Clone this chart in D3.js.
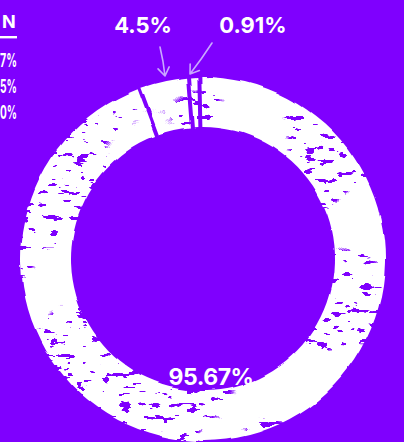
<!DOCTYPE html>
<html>
<head>
<meta charset="utf-8">
<script src="https://cdn.jsdelivr.net/npm/d3@7"></script>
<style>
  html, body { margin: 0; padding: 0; background: #7f00fe; overflow: hidden; }
  svg { display: block; }
</style>
</head>
<body>
<script>
// chart data
var categories = ["Main", "Second", "Third"];
var shares = [95.67, 4.5, 0.91];
var shareLabels = ["95.67%", "4.5%", "0.91%"];

// left legend, only its right edge is visible in the frame
var legendTitle = "N";
var legendLabels = ["7%", "5%", "0%"];

var width = 404;
var height = 442;
var bg = "#7f00fe";

var svg = d3.select("body").append("svg")
    .attr("width", width)
    .attr("height", height);

svg.append("rect")
    .attr("width", width)
    .attr("height", height)
    .attr("fill", bg);

// grunge filter: wobbly edges + clustered speckles
var defs = svg.append("defs");
var filter = defs.append("filter")
    .attr("id", "grunge")
    .attr("filterUnits", "userSpaceOnUse")
    .attr("x", -210).attr("y", -210)
    .attr("width", 420).attr("height", 420);
filter.append("feTurbulence")
    .attr("type", "fractalNoise")
    .attr("baseFrequency", "0.03")
    .attr("numOctaves", 2)
    .attr("seed", 3)
    .attr("result", "warp");
filter.append("feDisplacementMap")
    .attr("in", "SourceGraphic")
    .attr("in2", "warp")
    .attr("scale", 5)
    .attr("xChannelSelector", "R")
    .attr("yChannelSelector", "G")
    .attr("result", "rough");
filter.append("feTurbulence")
    .attr("type", "fractalNoise")
    .attr("baseFrequency", "0.07 0.16")
    .attr("numOctaves", 3)
    .attr("seed", 11)
    .attr("result", "spots");
filter.append("feColorMatrix")
    .attr("in", "spots")
    .attr("type", "matrix")
    .attr("values", "0 0 0 0 0  0 0 0 0 0  0 0 0 0 0  70 0 0 0 -45.3")
    .attr("result", "holes");
filter.append("feTurbulence")
    .attr("type", "fractalNoise")
    .attr("baseFrequency", "0.012")
    .attr("numOctaves", 1)
    .attr("seed", 5)
    .attr("result", "cluster");
filter.append("feColorMatrix")
    .attr("in", "cluster")
    .attr("type", "matrix")
    .attr("values", "0 0 0 0 0  0 0 0 0 0  0 0 0 0 0  40 0 0 0 -19")
    .attr("result", "clusterMask");
filter.append("feComposite")
    .attr("in", "holes")
    .attr("in2", "clusterMask")
    .attr("operator", "in")
    .attr("result", "holes2");
filter.append("feComposite")
    .attr("in", "rough")
    .attr("in2", "holes2")
    .attr("operator", "out");

var cx = 203, cy = 259;
var innerR = 132, outerR = 182;

var pie = d3.pie()
    .sort(null)
    .value(function(d) { return d; })
    .startAngle(-0.02)
    .endAngle(2 * Math.PI - 0.02);

var arc = d3.arc()
    .innerRadius(innerR)
    .outerRadius(outerR)
    .padAngle(4 / 157)
    .padRadius(157);

var arcs = pie(shares);

var ring = svg.append("g")
    .attr("transform", "translate(" + cx + "," + cy + ")")
    .attr("filter", "url(#grunge)");

ring.selectAll("path")
    .data(arcs)
    .enter().append("path")
    .attr("d", arc)
    .attr("fill", "#ffffff");

// value labels
var font = "Inter, 'DejaVu Sans', sans-serif";

svg.append("text")
    .attr("x", 211)
    .attr("y", 385)
    .attr("text-anchor", "middle")
    .style("font-family", font)
    .style("font-weight", 700)
    .style("font-size", "23px")
    .style("letter-spacing", "-0.5px")
    .style("fill", "#fff")
    .text(shareLabels[0]);

var topLabels = [
    {text: shareLabels[1], x: 143, from: [160, 47], to: [165, 76]},
    {text: shareLabels[2], x: 253, from: [212, 43], to: [190, 74]}
];

svg.selectAll(".top-label")
    .data(topLabels)
    .enter().append("text")
    .attr("class", "top-label")
    .attr("x", function(d) { return d.x; })
    .attr("y", 33)
    .attr("text-anchor", "middle")
    .style("font-family", font)
    .style("font-weight", 700)
    .style("font-size", "22px")
    .style("fill", "#fff")
    .text(function(d) { return d.text; });

// hand drawn arrows
var arrowColor = "#c9a8ff";
topLabels.forEach(function(d) {
    var dx = d.to[0] - d.from[0], dy = d.to[1] - d.from[1];
    var ang = Math.atan2(dy, dx);
    var h = 10, spread = 0.6;
    var p1 = [d.to[0] - h * Math.cos(ang - spread), d.to[1] - h * Math.sin(ang - spread)];
    var p2 = [d.to[0] - h * Math.cos(ang + spread), d.to[1] - h * Math.sin(ang + spread)];
    var path = d3.path();
    path.moveTo(d.from[0], d.from[1]);
    path.quadraticCurveTo((d.from[0] + d.to[0]) / 2 + 1, (d.from[1] + d.to[1]) / 2, d.to[0], d.to[1]);
    path.moveTo(p1[0], p1[1]);
    path.lineTo(d.to[0], d.to[1]);
    path.lineTo(p2[0], p2[1]);
    svg.append("path")
        .attr("d", path.toString())
        .attr("fill", "none")
        .attr("stroke", arrowColor)
        .attr("stroke-width", 1.6)
        .attr("stroke-linecap", "round")
        .attr("stroke-linejoin", "round");
});

// legend on the left edge
var legend = svg.append("g");
legend.append("text")
    .attr("x", 2)
    .attr("y", 28)
    .style("font-family", font)
    .style("font-weight", 700)
    .style("font-size", "18px")
    .style("fill", "#fff")
    .text(legendTitle);
legend.append("rect")
    .attr("x", 0)
    .attr("y", 36)
    .attr("width", 17)
    .attr("height", 2.4)
    .attr("fill", "#fff");
legend.selectAll(".leg")
    .data(legendLabels)
    .enter().append("text")
    .attr("class", "leg")
    .attr("x", 0)
    .attr("y", function(d, i) { return 67 + i * 26; })
    .attr("textLength", 17)
    .attr("lengthAdjust", "spacingAndGlyphs")
    .style("font-family", font)
    .style("font-weight", 700)
    .style("font-size", "19px")
    .style("fill", "#fff")
    .text(function(d) { return d; });
</script>
</body>
</html>
